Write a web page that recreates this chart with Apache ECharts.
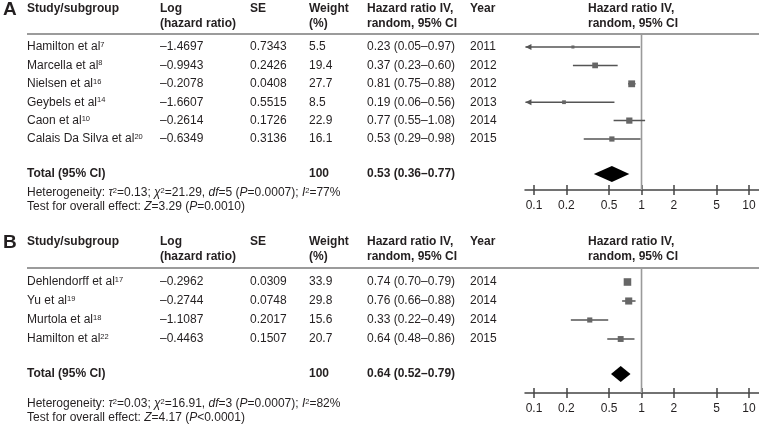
<!DOCTYPE html>
<html><head><meta charset="utf-8">
<script src="https://cdn.jsdelivr.net/npm/echarts@6/dist/echarts.min.js"></script>
<style>html,body{margin:0;padding:0;background:#fff}#c{width:759px;height:425px}</style>
</head><body><div id="c"></div>
<script>
// ---------------- DATA ----------------
const studiesA = ['Hamilton et al', 'Marcella et al', 'Nielsen et al', 'Geybels et al', 'Caon et al', 'Calais Da Silva et al'];
const refsA = ['7', '8', '16', '14', '10', '20'];
const logHRA = [-1.4697, -0.9943, -0.2078, -1.6607, -0.2614, -0.6349];
const seA = [0.7343, 0.2426, 0.0408, 0.5515, 0.1726, 0.3136];
const weightA = [5.5, 19.4, 27.7, 8.5, 22.9, 16.1];
const hrA = [0.23, 0.37, 0.81, 0.19, 0.77, 0.53];
const lowA = [0.05, 0.23, 0.75, 0.06, 0.55, 0.29];
const highA = [0.97, 0.60, 0.88, 0.56, 1.08, 0.98];
const yearA = ['2011', '2012', '2012', '2013', '2014', '2015'];
const totalA = [0.53, 0.36, 0.77];
const totalWeightA = 100;
const hetA = { tau2: '0.13', chi2: '21.29', df: '5', p: '0.0007', i2: '77%' };
const testA = { z: '3.29', p: '=0.0010' };

const studiesB = ['Dehlendorff et al', 'Yu et al', 'Murtola et al', 'Hamilton et al'];
const refsB = ['17', '19', '18', '22'];
const logHRB = [-0.2962, -0.2744, -1.1087, -0.4463];
const seB = [0.0309, 0.0748, 0.2017, 0.1507];
const weightB = [33.9, 29.8, 15.6, 20.7];
const hrB = [0.74, 0.76, 0.33, 0.64];
const lowB = [0.70, 0.66, 0.22, 0.48];
const highB = [0.79, 0.88, 0.49, 0.86];
const yearB = ['2014', '2014', '2014', '2015'];
const totalB = [0.64, 0.52, 0.79];
const totalWeightB = 100;
const hetB = { tau2: '0.03', chi2: '16.91', df: '3', p: '0.0007', i2: '82%' };
const testB = { z: '4.17', p: '<0.0001' };

const tickValues = [0.1, 0.2, 0.5, 1, 2, 5, 10];
const tickLabels = ['0.1', '0.2', '0.5', '1', '2', '5', '10'];

// ---------------- STYLE / LAYOUT ----------------
const FONT = '"Liberation Sans", Arial, Helvetica, sans-serif';
const INK = '#231f20';
const LINE = '#555555';
const COL = { study: 27, log: 160, se: 250, weight: 309, hr: 367, year: 470, plot: 588 };
const AX_MIN = 0.0824, AX_MAX = 12.39;
const PLOT_LEFT = 525;

const panels = [
  { letter: 'A', studies: studiesA, refs: refsA, logHR: logHRA, se: seA, weight: weightA, hr: hrA, low: lowA, high: highA,
    year: yearA, total: totalA, totalWeight: totalWeightA, het: hetA, test: testA,
    L: { head1: 9, head2: 24, rule: 34, row0: 47, step: 18.4, totalY: 174, axisY: 190, hetY: 193, testY: 207 } },
  { letter: 'B', studies: studiesB, refs: refsB, logHR: logHRB, se: seB, weight: weightB, hr: hrB, low: lowB, high: highB,
    year: yearB, total: totalB, totalWeight: totalWeightB, het: hetB, test: testB,
    L: { head1: 242, head2: 257, rule: 268, row0: 282, step: 19, totalY: 374, axisY: 393, hetY: 404, testY: 418 } }
];

const RICH = {
  n: { fontFamily: FONT, fontSize: 12, fill: INK },
  b: { fontFamily: FONT, fontSize: 12, fontWeight: 'bold', fill: INK },
  i: { fontFamily: FONT, fontSize: 12, fontStyle: 'italic', fill: INK },
  sup: { fontFamily: FONT, fontSize: 7.5, fill: INK, verticalAlign: 'top', lineHeight: 8 }
};

const fmtLog = v => (v < 0 ? '\u2013' : '') + Math.abs(v).toFixed(4);
const fmtCI = (e, l, h) => e.toFixed(2) + ' (' + l.toFixed(2) + '\u2013' + h.toFixed(2) + ')';
const yVal = (L, py) => (py - L.row0) / L.step;

function gText(x, y, text, opt) {
  opt = opt || {};
  return { type: 'text', x: x, y: y, silent: true,
    style: { text: text, fill: INK, fontFamily: FONT, fontSize: opt.size || 12, fontWeight: opt.bold ? 'bold' : 'normal',
      align: 'left', verticalAlign: 'middle', rich: opt.rich ? RICH : undefined } };
}

const graphics = [];
panels.forEach(p => {
  const L = p.L;
  graphics.push(gText(3, L.head1 + 0.5, p.letter, { size: 19, bold: true }));
  [[COL.study, 'Study/subgroup', ''], [COL.log, 'Log', '(hazard ratio)'], [COL.se, 'SE', ''], [COL.weight, 'Weight', '(%)'],
   [COL.hr, 'Hazard ratio IV,', 'random, 95% CI'], [COL.year, 'Year', ''], [COL.plot, 'Hazard ratio IV,', 'random, 95% CI']]
    .forEach(h => {
      graphics.push(gText(h[0], L.head1, h[1], { bold: true }));
      if (h[2]) graphics.push(gText(h[0], L.head2, h[2], { bold: true }));
    });
  graphics.push({ type: 'line', silent: true, shape: { x1: COL.study, y1: L.rule, x2: 759, y2: L.rule },
    style: { stroke: '#7a7a7a', lineWidth: 1.5 } });
  const h = p.het, t = p.test;
  graphics.push(gText(COL.study, L.hetY,
    '{n|Heterogeneity: }{i|\u03c4}{sup|2}{n|=' + h.tau2 + '; }{i|\u03c7}{sup|2}{n|=' + h.chi2 + ', }{i|df}{n|=' + h.df +
    ' (}{i|P}{n|=' + h.p + '); }{i|I}{sup|2}{n|=' + h.i2 + '}', { rich: true }));
  graphics.push(gText(COL.study, L.testY,
    '{n|Test for overall effect: }{i|Z}{n|=' + t.z + ' (}{i|P}{n|' + t.p + ')}', { rich: true }));
});

const grids = [], xAxes = [], yAxes = [], series = [];
panels.forEach((p, gi) => {
  const L = p.L;
  grids.push({ left: PLOT_LEFT, width: 759 - PLOT_LEFT, top: L.rule, height: L.axisY - L.rule });
  const lbl = v => { const k = tickValues.findIndex(tv => Math.abs(tv - v) / tv < 1e-6); return k >= 0 ? tickLabels[k] : ''; };
  xAxes.push({ gridIndex: gi, type: 'log', logBase: 10, min: AX_MIN, max: AX_MAX, position: 'bottom',
    axisLine: { show: true, onZero: false, lineStyle: { color: '#444', width: 1.5 } },
    axisTick: { show: true, customValues: tickValues, length: 5, lineStyle: { color: '#444', width: 1.5 } },
    axisLabel: { show: true, customValues: tickValues, formatter: lbl, fontFamily: FONT, fontSize: 12, color: INK, margin: 10 },
    splitLine: { show: false }, minorTick: { show: false } });
  xAxes.push({ gridIndex: gi, type: 'log', logBase: 10, min: AX_MIN, max: AX_MAX, position: 'bottom',
    axisLine: { show: false, onZero: false },
    axisTick: { show: true, inside: true, customValues: tickValues, length: 5, lineStyle: { color: '#444', width: 1.5 } },
    axisLabel: { show: false }, splitLine: { show: false } });
  yAxes.push({ gridIndex: gi, type: 'value', inverse: true, show: false,
    min: yVal(L, L.rule), max: yVal(L, L.axisY), splitLine: { show: false } });
  const xi = gi * 2;
  const totalRow = yVal(L, L.totalY);

  // reference line at HR = 1
  series.push({ type: 'custom', xAxisIndex: xi, yAxisIndex: gi, clip: false, silent: true, z: 1,
    data: [[1]],
    renderItem: (params, api) => {
      const cs = params.coordSys;
      const x = api.coord([api.value(0), 0])[0];
      return { type: 'line', shape: { x1: x, y1: cs.y, x2: x, y2: cs.y + cs.height },
        style: { stroke: '#9a9a9a', lineWidth: 1.6 } };
    } });

  // study CIs and squares
  series.push({ type: 'custom', xAxisIndex: xi, yAxisIndex: gi, clip: false, silent: true, z: 3,
    data: p.hr.map((v, i) => [v, p.low[i], p.high[i], p.weight[i], i]),
    renderItem: (params, api) => {
      const e = api.value(0), lo = api.value(1), hi = api.value(2), w = api.value(3), r = api.value(4);
      const pc = api.coord([e, r]);
      const pl = api.coord([Math.max(lo, AX_MIN * 1.01), r]);
      const ph = api.coord([Math.min(hi, AX_MAX), r]);
      const s = 1.3 * Math.sqrt(w);
      const ch = [
        { type: 'line', shape: { x1: pl[0], y1: pl[1], x2: ph[0], y2: ph[1] }, style: { stroke: LINE, lineWidth: 1.5 } },
        { type: 'rect', shape: { x: pc[0] - s / 2, y: pc[1] - s / 2, width: s, height: s }, style: { fill: '#666' } }
      ];
      if (lo < AX_MIN) {
        ch.push({ type: 'polygon', shape: { points: [[pl[0], pl[1]], [pl[0] + 6, pl[1] - 3], [pl[0] + 6, pl[1] + 3]] },
          style: { fill: LINE } });
      }
      return { type: 'group', children: ch };
    } });

  // pooled diamond
  series.push({ type: 'custom', xAxisIndex: xi, yAxisIndex: gi, clip: false, silent: true, z: 4,
    data: [[p.total[0], p.total[1], p.total[2], totalRow]],
    renderItem: (params, api) => {
      const r = api.value(3);
      const c = api.coord([api.value(0), r]), l = api.coord([api.value(1), r]), h = api.coord([api.value(2), r]);
      const hh = 8;
      return { type: 'polygon', shape: { points: [[l[0], c[1]], [c[0], c[1] - hh], [h[0], c[1]], [c[0], c[1] + hh]] },
        style: { fill: '#000' } };
    } });

  // table rows (positioned on the same row axis)
  const rows = p.studies.map((s, i) => [0.5, i, i]);
  rows.push([0.5, totalRow, -1]);
  series.push({ type: 'custom', xAxisIndex: xi, yAxisIndex: gi, clip: false, silent: true, z: 5,
    data: rows,
    renderItem: (params, api) => {
      const y = api.coord([api.value(0), api.value(1)])[1];
      const k = api.value(2);
      const t = (x, text, bold, rich) => ({ type: 'text', x: x, y: y,
        style: { text: text, fill: INK, fontFamily: FONT, fontSize: 12, fontWeight: bold ? 'bold' : 'normal',
          align: 'left', verticalAlign: 'middle', rich: rich ? RICH : undefined } });
      if (k < 0) {
        return { type: 'group', children: [
          t(COL.study, 'Total (95% CI)', true),
          t(COL.weight, String(p.totalWeight), true),
          t(COL.hr, fmtCI(p.total[0], p.total[1], p.total[2]), true)
        ] };
      }
      return { type: 'group', children: [
        t(COL.study, '{n|' + p.studies[k] + '}{sup|' + p.refs[k] + '}', false, true),
        t(COL.log, fmtLog(p.logHR[k])),
        t(COL.se, p.se[k].toFixed(4)),
        t(COL.weight, p.weight[k].toFixed(1)),
        t(COL.hr, fmtCI(p.hr[k], p.low[k], p.high[k])),
        t(COL.year, p.year[k])
      ] };
    } });
});

const chart = echarts.init(document.getElementById('c'), null, { renderer: 'canvas' });
chart.setOption({
  animation: false,
  backgroundColor: '#fff',
  grid: grids, xAxis: xAxes, yAxis: yAxes, series: series,
  graphic: { elements: graphics }
});
</script></body></html>
